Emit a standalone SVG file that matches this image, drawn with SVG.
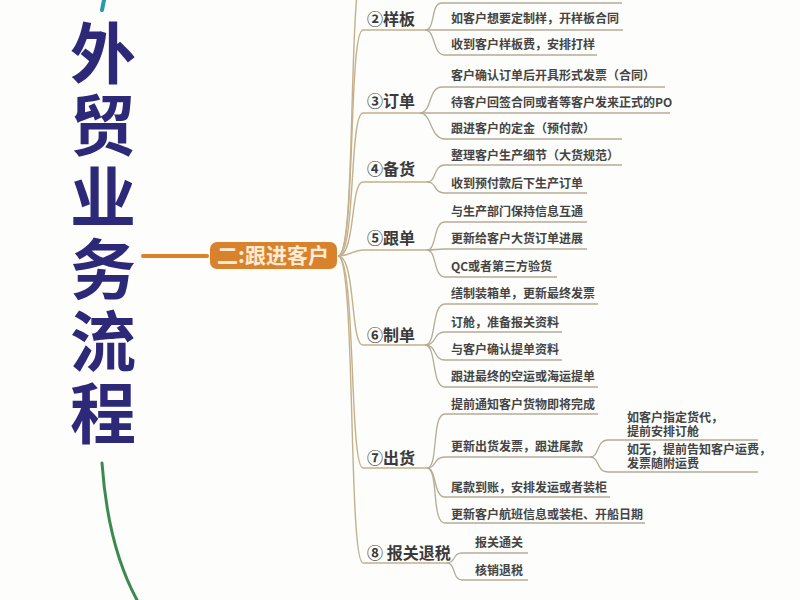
<svg xmlns="http://www.w3.org/2000/svg" width="800" height="600" viewBox="0 0 800 600">
<style>
.title{font-family:"Noto Sans CJK SC","Noto Sans CJK JP",sans-serif;font-weight:700;font-size:66px;fill:#2d2878;writing-mode:vertical-rl;letter-spacing:6px}
.cat{font-family:"Noto Sans CJK SC","Noto Sans CJK JP",sans-serif;font-weight:700;font-size:16px;fill:#3a3a3a}
.leaf{font-family:"Noto Sans CJK SC","Noto Sans CJK JP",sans-serif;font-weight:700;font-size:12px;fill:#444}
.trunk{fill:none;stroke:#c4b08c;stroke-width:1.4}
.br{fill:none;stroke:#b5ab98;stroke-width:1.3}
</style>
<rect width="800" height="600" fill="#fdfdfb"/>

<g id="title">
<text class="title" x="103" y="20">外贸业务流程</text>
</g>

<g id="connectors">
<path d="M104,0 L102,10" stroke="#2a9aa8" stroke-width="4" stroke-linecap="round" fill="none"/>
<path d="M102,463 C106,520 118,565 137,600" stroke="#3c8a50" stroke-width="3" fill="none" stroke-linecap="round"/>
<path d="M143,256 L207,256" stroke="#d9822b" stroke-width="4" stroke-linecap="round"/>
<path class="trunk" d="M338,256 C358,256 346,-40 366,-40"/>
<path class="trunk" d="M338,256 C356,256 348,30 363,30 H425"/>
<path class="trunk" d="M338,256 C356,256 349,113 363,113 H420"/>
<path class="trunk" d="M338,256 C356,256 350,182 363,182 H427"/>
<path class="trunk" d="M338,256 C352,256 352,250 363,250 H427"/>
<path class="trunk" d="M338,256 C356,256 350,345 363,345 H425"/>
<path class="trunk" d="M338,256 C356,256 349,468 363,468 H427"/>
<path class="trunk" d="M338,256 C356,256 348,563 363,563 H447"/>
<path class="br" d="M425,30 C436,30 430,3 442,3 H622"/>
<path class="br" d="M425,30 H623"/>
<path class="br" d="M425,30 C436,30 432,55 445,55 H597"/>
<path class="br" d="M420,113 C432,113 428,87 442,87 H665"/>
<path class="br" d="M420,113 H670"/>
<path class="br" d="M420,113 C432,113 430,139 445,139 H622"/>
<path class="br" d="M427,182 C437,182 433,165 445,165 H622"/>
<path class="br" d="M427,182 C437,182 433,193 445,193 H587"/>
<path class="br" d="M427,250 C437,250 433,222 445,222 H587"/>
<path class="br" d="M427,250 C435,250 437,249 445,249 H587"/>
<path class="br" d="M427,250 C437,250 433,277 445,277 H557"/>
<path class="br" d="M425,345 C437,345 431,304 445,304 H598"/>
<path class="br" d="M425,345 C437,345 433,332 445,332 H562"/>
<path class="br" d="M425,345 C437,345 433,360 445,360 H562"/>
<path class="br" d="M425,345 C437,345 431,387 445,387 H598"/>
<path class="br" d="M427,468 C439,468 431,414 445,414 H598"/>
<path class="br" d="M427,468 C437,468 433,457 445,457 H590"/>
<path class="br" d="M427,468 C437,468 433,497 445,497 H610"/>
<path class="br" d="M427,468 C439,468 431,523 445,523 H645"/>
<path class="br" d="M590,457 C600,457 596,440 608,440 H758"/>
<path class="br" d="M590,457 C600,457 596,472 608,472 H758"/>
<path class="br" d="M447,563 C456,563 452,553 462,553 H528"/>
<path class="br" d="M447,563 C456,563 452,580 462,580 H528"/>
</g>

<g id="root">
<rect x="210" y="242" width="127" height="27" rx="7" fill="#d9822e"/>
<text x="273" y="263" font-family="Noto Sans CJK SC, Noto Sans CJK JP, sans-serif" font-weight="700" font-size="21" fill="#fdebd3" text-anchor="middle">二:跟进客户</text>
</g>

<g id="cat2"><text class="cat" x="367" y="25">②样板</text>
<text class="leaf" x="451" y="23">如客户想要定制样，开样板合同</text>
<text class="leaf" x="451" y="49">收到客户样板费，安排打样</text></g>

<g id="cat3"><text class="cat" x="367" y="107">③订单</text>
<text class="leaf" x="451" y="80">客户确认订单后开具形式发票（合同）</text>
<text class="leaf" x="451" y="107">待客户回签合同或者等客户发来正式的PO</text>
<text class="leaf" x="451" y="133">跟进客户的定金（预付款）</text></g>

<g id="cat4"><text class="cat" x="367" y="175">④备货</text>
<text class="leaf" x="451" y="160">整理客户生产细节（大货规范）</text>
<text class="leaf" x="451" y="188">收到预付款后下生产订单</text></g>

<g id="cat5"><text class="cat" x="367" y="244">⑤跟单</text>
<text class="leaf" x="451" y="216">与生产部门保持信息互通</text>
<text class="leaf" x="451" y="243">更新给客户大货订单进展</text>
<text class="leaf" x="451" y="271">QC或者第三方验货</text></g>

<g id="cat6"><text class="cat" x="367" y="341">⑥制单</text>
<text class="leaf" x="451" y="298">缮制装箱单，更新最终发票</text>
<text class="leaf" x="451" y="327">订舱，准备报关资料</text>
<text class="leaf" x="451" y="354">与客户确认提单资料</text>
<text class="leaf" x="451" y="381">跟进最终的空运或海运提单</text></g>

<g id="cat7"><text class="cat" x="367" y="464">⑦出货</text>
<text class="leaf" x="451" y="409">提前通知客户货物即将完成</text>
<text class="leaf" x="451" y="451">更新出货发票，跟进尾款</text>
<text class="leaf" x="627" y="422">如客户指定货代，<tspan x="627" dy="14">提前安排订舱</tspan></text>
<text class="leaf" x="627" y="454">如无，提前告知客户运费，<tspan x="627" dy="14">发票随附运费</tspan></text>
<text class="leaf" x="451" y="492">尾款到账，安排发运或者装柜</text>
<text class="leaf" x="451" y="519">更新客户航班信息或装柜、开船日期</text></g>

<g id="cat8"><text class="cat" x="367" y="559">⑧ 报关退税</text>
<text class="leaf" x="475" y="547">报关通关</text>
<text class="leaf" x="475" y="575">核销退税</text></g>
</svg>
